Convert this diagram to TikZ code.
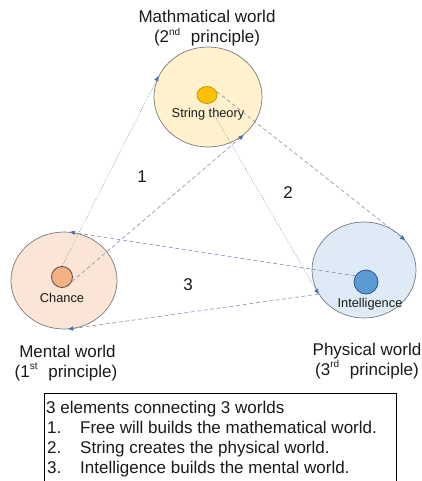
\documentclass[tikz,border=0pt]{standalone}
\usepackage{fontspec}
\setmainfont{Liberation Sans}
\usetikzlibrary{shapes.geometric,arrows.meta}
\definecolor{txt}{HTML}{1A1A1A}
\definecolor{worldline}{HTML}{7A7A7A}
\definecolor{mathfill}{HTML}{FFF2CC}
\definecolor{mentfill}{HTML}{FBE5D6}
\definecolor{physfill}{HTML}{DEEBF7}
\definecolor{orangedot}{HTML}{FFC000}
\definecolor{orangeline}{HTML}{C99700}
\definecolor{peachdot}{HTML}{F4B183}
\definecolor{peachline}{HTML}{5A4A40}
\definecolor{bluedot}{HTML}{5B9BD5}
\definecolor{blueline}{HTML}{2F528F}
\definecolor{linec}{HTML}{7F93B3}
\definecolor{arrowc}{HTML}{4A6FB0}
\newcommand\mysup[1]{\raisebox{0.42em}{\fontsize{10}{10}\selectfont #1}}
\begin{document}
\begin{tikzpicture}[x=1pt,y=-1pt,
  world/.style={ellipse, draw=worldline, line width=0.7pt, inner sep=0pt},
  dotnode/.style={ellipse, line width=0.8pt, inner sep=0pt},
  bigtext/.style={font=\fontsize{17}{20}\selectfont, text=txt, inner sep=0pt, anchor=base},
  smalltext/.style={font=\fontsize{12.8}{14}\selectfont, text=txt, inner sep=0pt, anchor=base},
  conn/.style={draw=linec, line width=0.6pt, -{Triangle[length=5pt,width=4.2pt,color=arrowc]}},
  dotline/.style={conn, dash pattern=on 0.8pt off 1.6pt},
  dashline/.style={conn, dash pattern=on 4pt off 2.6pt}]
\useasboundingbox (0,0) rectangle (422,481);
\fill[white] (0,0) rectangle (422,481);

% worlds
\node[world, fill=mathfill, minimum width=108pt, minimum height=100pt] (math) at (208,97) {};
\node[world, fill=mentfill, minimum width=106pt, minimum height=97pt] (mental) at (64,280.5) {};
\node[world, fill=physfill, minimum width=104pt, minimum height=96pt] (phys) at (364,270) {};

% inner elements
\node[dotnode, draw=orangeline, fill=orangedot, minimum width=20pt, minimum height=17pt] (string) at (207,95) {};
\node[dotnode, draw=peachline, fill=peachdot, minimum width=21pt, minimum height=21pt] (chance) at (62,277) {};
\node[dotnode, draw=blueline, fill=bluedot, minimum width=24pt, minimum height=24pt] (intel) at (366,282) {};

\node[smalltext] (stringlbl) at (208,118) {String theory};
\node[smalltext] (chancelbl) at (62,302) {Chance};
\node[smalltext] (intellbl) at (370,307) {Intelligence};

% world labels
\node[bigtext] (mathA) at (207,23) {Mathmatical world};
\node[bigtext] (mathB) at (207,43) {(2\mysup{nd}\hspace{0.35em} principle)};
\node[bigtext] (mentA) at (67.5,357) {Mental world};
\node[bigtext] (mentB) at (66,377) {(1\mysup{st}\hspace{0.35em} principle)};
\node[bigtext] (physA) at (367,355) {Physical world};
\node[bigtext] (physB) at (367,375) {(3\mysup{rd}\hspace{0.35em} principle)};

% numbers
\node[bigtext] (n1) at (142,182) {1};
\node[bigtext] (n2) at (288,198) {2};
\node[bigtext] (n3) at (188,290) {3};

% connectors
\draw[dotline] (chance.north) -- (math.157);
\draw[dashline] (chance.-25) -- (math.-47);
\draw[dotline] (string.-85) -- (phys.208);
\draw[dashline] (string.20) -- (phys.36);
\draw[dashline] (intel.150) -- (mental.83);
\draw[dashline] (phys.208) -- (mental.-85);

% legend
\node[draw=black, line width=0.8pt, anchor=north west, minimum width=352pt, minimum height=100pt, inner sep=0pt] (legend) at (44,393) {};
\node[bigtext, anchor=base west] (l0) at (46,413) {3 elements connecting 3 worlds};
\node[bigtext, anchor=base west] (l1n) at (47,433) {1.};
\node[bigtext, anchor=base west] (l1) at (80,433) {Free will builds the mathematical world.};
\node[bigtext, anchor=base west] (l2n) at (47,453) {2.};
\node[bigtext, anchor=base west] (l2) at (80,453) {String creates the physical world.};
\node[bigtext, anchor=base west] (l3n) at (47,473) {3.};
\node[bigtext, anchor=base west] (l3) at (80,473) {Intelligence builds the mental world.};
\end{tikzpicture}
\end{document}
